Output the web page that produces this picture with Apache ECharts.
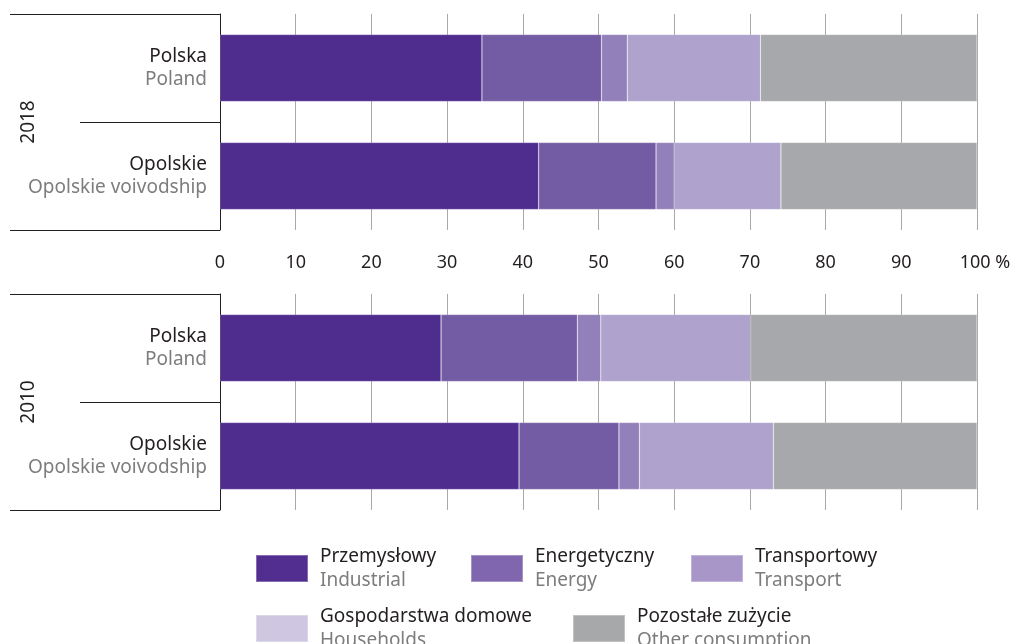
<!DOCTYPE html>
<html>
<head>
<meta charset="utf-8">
<script src="https://cdn.jsdelivr.net/npm/echarts@6/dist/echarts.min.js"></script>
<style>html,body{margin:0;padding:0;background:#fff}#c{width:1013px;height:644px}</style>
</head>
<body>
<div id="c"></div>
<script>
var categoriesPL = ['Polska', 'Opolskie'];
var categoriesEN = ['Poland', 'Opolskie voivodship'];
var years = ['2018', '2010'];
var seriesPL = ['Przemysłowy', 'Energetyczny', 'Transportowy', 'Gospodarstwa domowe', 'Pozostałe zużycie'];
var seriesEN = ['Industrial', 'Energy', 'Transport', 'Households', 'Other consumption'];
// values per series: [Polska, Opolskie]
var industrial2018 = [34.6, 42.1];
var energy2018 = [15.8, 15.5];
var transport2018 = [3.4, 2.4];
var households2018 = [17.6, 14.1];
var other2018 = [28.6, 25.9];
var industrial2010 = [29.2, 39.5];
var energy2010 = [18.0, 13.2];
var transport2010 = [3.1, 2.7];
var households2010 = [19.8, 17.7];
var other2010 = [29.9, 26.9];
var xTicks = [0, 10, 20, 30, 40, 50, 60, 70, 80, 90, 100];

var barColors = ['#4f2d8e', '#745ca5', '#9180b9', '#afa2cc', '#a7a8ab'];
var legendColors = ['#522e91', '#7f66ae', '#a796c7', '#cfc6e1', '#a7a8aa'];
var FONT = 'Noto Sans';
var FS = 19;

var data2018 = [industrial2018, energy2018, transport2018, households2018, other2018];
var data2010 = [industrial2010, energy2010, transport2010, households2010, other2010];

var grids = [
  {left: 220, right: 36, top: 14, height: 216, outerBoundsMode: 'none', containLabel: false},
  {left: 220, right: 36, top: 294, height: 216, outerBoundsMode: 'none', containLabel: false}
];

function xAxis(idx, showLabels) {
  return {
    type: 'value', gridIndex: idx, min: xTicks[0], max: xTicks[xTicks.length - 1], interval: 10,
    axisLine: {show: false}, axisTick: {show: false},
    splitLine: {show: true, lineStyle: {color: '#a9a9a9', width: 1}},
    axisLabel: {
      show: showLabels, margin: 24, color: '#231f20', fontSize: 18, fontFamily: FONT,
      hideOverlap: false,
      formatter: function (v) { return v === 100 ? '{p|100 %}' : String(v); },
      rich: {p: {color: '#231f20', fontSize: 18, fontFamily: FONT, padding: [0, 0, 0, 16]}}
    }
  };
}
function yAxis(idx, year) {
  return {
    type: 'category', gridIndex: idx, inverse: true,
    data: categoriesPL.slice(),
    name: year, nameLocation: 'middle', nameRotate: 90, nameGap: 182, nameMoveOverlap: false,
    nameTextStyle: {color: '#231f20', fontSize: 19, fontFamily: FONT},
    axisLine: {show: true, lineStyle: {color: '#231f20', width: 1}},
    axisTick: {show: true, length: 140, lineStyle: {color: '#231f20', width: 1}},
    axisLabel: {
      margin: 13, align: 'right',
      formatter: function (v) { return '{a|' + v + '}\n{b|' + categoriesEN[categoriesPL.indexOf(v)] + '}'; },
      rich: {
        a: {color: '#231f20', fontSize: FS, lineHeight: 23, fontFamily: FONT, align: 'right'},
        b: {color: '#7d7d7d', fontSize: FS, lineHeight: 23, fontFamily: FONT, align: 'right'}
      }
    }
  };
}

var series = [];
[data2018, data2010].forEach(function (ds, gi) {
  ds.forEach(function (vals, si) {
    series.push({
      name: seriesPL[si], type: 'bar', stack: 'g' + gi,
      xAxisIndex: gi, yAxisIndex: gi, barWidth: 67,
      itemStyle: {color: barColors[si], borderColor: 'rgba(255,255,255,0.3)', borderWidth: 0.6},
      emphasis: {disabled: true},
      data: vals
    });
  });
});

var legendPos = [
  {left: 250, top: 542}, {left: 465, top: 542}, {left: 685, top: 542},
  {left: 250, top: 602}, {left: 567, top: 602}
];
var legends = seriesPL.map(function (name, i) {
  return {
    left: legendPos[i].left, top: legendPos[i].top, orient: 'horizontal',
    icon: 'rect', itemWidth: 52, itemHeight: 27, selectedMode: false,
    data: [{name: name, itemStyle: {color: legendColors[i]}}],
    formatter: function (n) { return '{a|' + n + '}\n{b|' + seriesEN[seriesPL.indexOf(n)] + '}'; },
    textStyle: {
      padding: [0, 0, 0, 7],
      rich: {
        a: {color: '#231f20', fontSize: FS, lineHeight: 24, fontFamily: FONT},
        b: {color: '#7d7d7d', fontSize: FS, lineHeight: 24, fontFamily: FONT}
      }
    }
  };
});

var graphics = [];
grids.forEach(function (g) {
  [g.top, g.top + g.height].forEach(function (y) {
    graphics.push({type: 'line', shape: {x1: 10, y1: y + 0.5, x2: g.left, y2: y + 0.5},
      style: {stroke: '#231f20', lineWidth: 1}, silent: true});
  });
});

var chart = echarts.init(document.getElementById('c'), null, {renderer: 'canvas'});
chart.setOption({
  animation: false,
  backgroundColor: '#ffffff',
  textStyle: {fontFamily: FONT},
  grid: grids,
  xAxis: [xAxis(0, true), xAxis(1, false)],
  yAxis: [yAxis(0, years[0]), yAxis(1, years[1])],
  legend: legends,
  series: series,
  graphic: graphics
});
</script>
</body>
</html>
